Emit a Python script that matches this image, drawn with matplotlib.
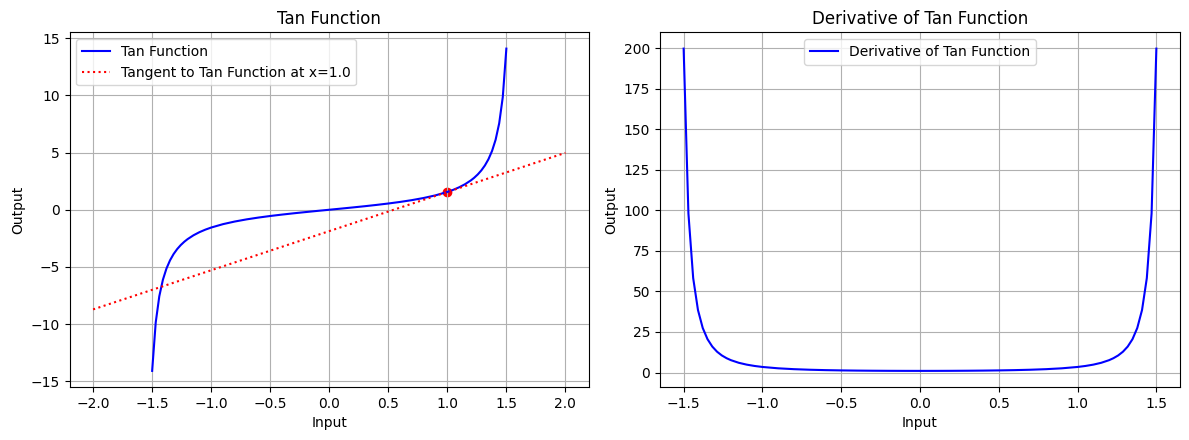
import matplotlib
matplotlib.use("Agg")
import matplotlib.pyplot as plt

x_vals = [-1.5, -1.4697, -1.4394, -1.4091, -1.3788, -1.3485, -1.3182, -1.2879, -1.2576,
          -1.2273, -1.2, -1.15, -1.1, -1.05, -1.0, -0.9, -0.8, -0.7, -0.6, -0.5, -0.4, -0.3,
          -0.2, -0.1, 0.0, 0.1, 0.2, 0.3, 0.4, 0.5, 0.6, 0.7, 0.8, 0.9, 1.0, 1.05, 1.1, 1.15,
          1.2, 1.2273, 1.2576, 1.2879, 1.3182, 1.3485, 1.3788, 1.4091, 1.4394, 1.4697, 1.5]
tan_vals = [-14.101, -9.858, -7.566, -6.130, -5.144, -4.424, -3.874, -3.440, -3.088,
            -2.796, -2.572, -2.235, -1.965, -1.743, -1.557, -1.260, -1.030, -0.842, -0.684,
            -0.546, -0.423, -0.309, -0.203, -0.100, 0.0, 0.100, 0.203, 0.309, 0.423, 0.546,
            0.684, 0.842, 1.030, 1.260, 1.557, 1.743, 1.965, 2.235, 2.572, 2.796, 3.088,
            3.440, 3.874, 4.424, 5.144, 6.130, 7.566, 9.858, 14.101]
deriv_vals = [199.85, 98.18, 58.24, 38.58, 27.46, 20.57, 16.01, 12.83, 10.53, 8.82, 7.615,
              5.993, 4.860, 4.039, 3.426, 2.588, 2.060, 1.710, 1.468, 1.298, 1.179, 1.096,
              1.041, 1.010, 1.0, 1.010, 1.041, 1.096, 1.179, 1.298, 1.468, 1.710, 2.060,
              2.588, 3.426, 4.039, 4.860, 5.993, 7.615, 8.82, 10.53, 12.83, 16.01, 20.57,
              27.46, 38.58, 58.24, 98.18, 199.85]

tangent_x = [-2.0, 2.0]
tangent_y = [-8.72, 4.98]
point_x = [1.0]
point_y = [1.557]

fig = plt.figure(figsize=(11.89, 4.4), dpi=100)
W, H = 1189.0, 440.0
top = 1 - 32.5 / H
bottom = 1 - 387.0 / H
ax1 = fig.add_axes([69.5 / W, bottom, (589.0 - 69.5) / W, top - bottom])
ax2 = fig.add_axes([660.0 / W, bottom, (1180.0 - 660.0) / W, top - bottom])

ax1.plot(x_vals, tan_vals, color="blue", label="Tan Function")
ax1.plot(tangent_x, tangent_y, color="red", linestyle=":", label="Tangent to Tan Function at x=1.0")
ax1.scatter(point_x, point_y, color="red")
ax1.set_title("Tan Function")
ax1.set_xlabel("Input")
ax1.set_ylabel("Output")
ax1.legend(loc="upper left")
ax1.grid(True)

ax2.plot(x_vals, deriv_vals, color="blue", label="Derivative of Tan Function")
ax2.set_title("Derivative of Tan Function")
ax2.set_xlabel("Input")
ax2.set_ylabel("Output")
ax2.legend(loc="upper center")
ax2.grid(True)

plt.savefig("out.png")
